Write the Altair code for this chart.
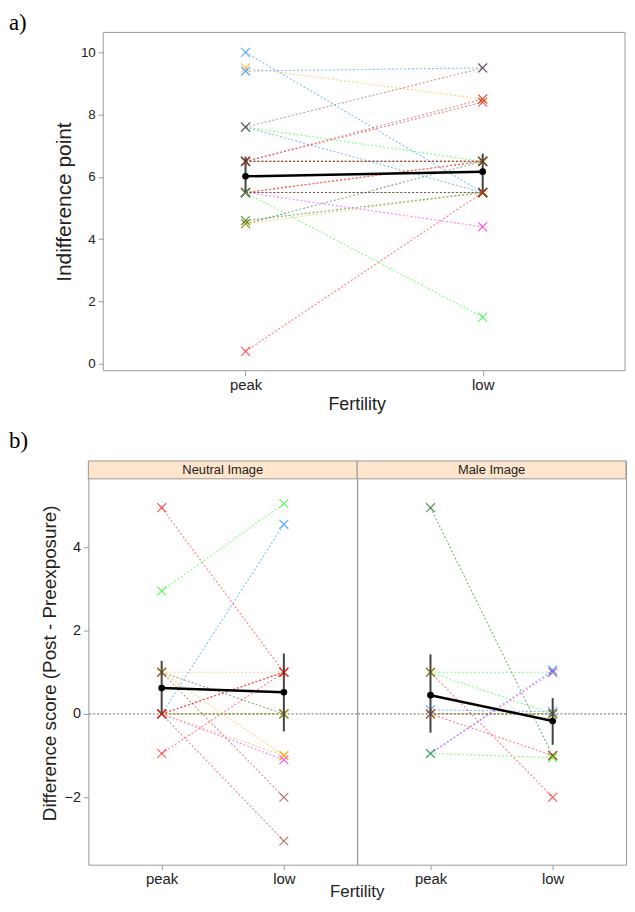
import altair as alt
import pandas as pd

BLUE = "#0080ff"; MAG = "#ff00ff"; DG = "#006400"; RED = "#ff0000"
ORA = "#ffa500"; GRN = "#00ff00"; BRN = "#a52a2a"

fert_labels = ["peak", "low"]

# ---- panel a: indifference points (peak -> low) per participant
a_peak = [10.0, 9.5, 9.4, 7.6, 7.6, 7.6, 6.5, 6.5, 6.5, 6.5, 6.5, 5.5, 5.5, 5.5,
          5.5, 5.5, 5.5, 5.5, 5.5, 5.5, 4.5, 4.5, 4.6, 0.4]
a_low = [5.5, 8.5, 9.5, 6.5, 5.5, 9.5, 8.5, 8.4, 6.5, 6.5, 6.5, 6.5, 6.5, 6.5,
         5.5, 5.5, 5.5, 5.5, 4.4, 1.5, 6.5, 5.5, 5.5, 5.5]
a_col = [BLUE, ORA, BLUE, GRN, BLUE, BRN, BRN, RED, RED, DG, BRN, MAG, RED, ORA,
         GRN, DG, BLUE, RED, MAG, GRN, DG, ORA, DG, RED]
a_mean = [6.02, 6.17]
a_lo = [5.5, 5.55]
a_hi = [6.65, 6.75]

# ---- panel b: difference scores, neutral image
n_peak = [4.95, 2.95, 0.0, -0.95, 1.0, 1.0, 1.0, 1.0, 0.0, 0.0, 0.0, 0.0, 0.0, 0.0, 0.0, 0.0]
n_low = [1.0, 5.05, 4.55, 1.0, 1.0, 0.0, -1.0, -2.0, 1.0, 1.0, 0.0, 0.0, -1.1, -3.05, -1.0, 1.0]
n_col = [RED, GRN, BLUE, RED, ORA, DG, ORA, BRN, MAG, ORA, DG, ORA, MAG, BRN, ORA, RED]
n_mean = [0.62, 0.52]
n_lo = [-0.02, -0.42]
n_hi = [1.27, 1.45]

# ---- panel b: difference scores, male image
m_peak = [4.95, 1.0, 1.0, 1.0, 0.1, 0.0, 0.0, -0.95, -0.95, -0.95, 0.0]
m_low = [-1.0, 1.0, 0.0, -2.0, 0.05, -1.0, 0.0, 1.05, 1.0, -1.05, 0.0]
m_col = [DG, GRN, GRN, RED, BLUE, RED, GRN, BLUE, MAG, GRN, RED]
m_mean = [0.45, -0.17]
m_lo = [-0.45, -0.74]
m_hi = [1.43, 0.38]

strip_names = ["Neutral Image", "Male Image"]

XPATH = "M-1,-1L1,1M-1,1L1,-1"
FONT = "Liberation Sans"
TXT = "#222222"
BOX = "#999999"


def long_df(peaks, lows, cols, prefix):
    rows = []
    for i, (p, l, c) in enumerate(zip(peaks, lows, cols)):
        rows.append(dict(subject=f"{prefix}{i}", fert=1, value=p, color=c))
        rows.append(dict(subject=f"{prefix}{i}", fert=2, value=l, color=c))
    return pd.DataFrame(rows)


def mean_df(mean, lo, hi):
    return pd.DataFrame(dict(fert=[1, 2], mean=mean, lo=lo, hi=hi))


def make_axes(yvals, ytitle, xtitle, ytitle_size, ytitle_pad, ylab_size, yoffset):
    xax = alt.Axis(values=[1, 2], labelExpr="datum.value == 1 ? 'peak' : 'low'",
                   title=xtitle, grid=False, domain=False, tickColor=BOX,
                   tickSize=5, labelFontSize=15, labelColor=TXT,
                   labelFont=FONT, titleFont=FONT, titleFontSize=18,
                   titleFontWeight="normal", titleColor=TXT, labelPadding=2,
                   titlePadding=3)
    if ytitle:
        yax = alt.Axis(values=yvals, title=ytitle, grid=False, domain=False,
                       tickColor=BOX, tickSize=5, labelFontSize=ylab_size,
                       labelColor=TXT, labelFont=FONT, titleFont=FONT,
                       titleFontSize=ytitle_size, titleFontWeight="normal",
                       titleColor=TXT, labelPadding=3, titlePadding=ytitle_pad,
                       offset=yoffset)
    else:
        yax = alt.Axis(values=yvals, title="", grid=False, domain=False,
                       ticks=False, labels=False)
    return xax, yax


def panel(subj, means, width, height, xdom, ydom, yvals, ytitle, xtitle,
          ytitle_size, ytitle_pad, ylab_size, yoffset, extras):
    xsc = alt.Scale(domain=xdom, nice=False, zero=False)
    ysc = alt.Scale(domain=ydom, nice=False, zero=False)
    xax, yax = make_axes(yvals, ytitle, xtitle, ytitle_size, ytitle_pad,
                         ylab_size, yoffset)
    X = alt.X("fert:Q", scale=xsc, axis=xax, title=xtitle)
    base = alt.Chart(subj)
    lines = base.mark_line(strokeDash=[2, 2], strokeWidth=1.1, opacity=0.5).encode(
        x=X,
        y=alt.Y("value:Q", scale=ysc, axis=yax, title=ytitle),
        detail="subject:N",
        color=alt.Color("color:N", scale=None),
    )
    pts = base.mark_point(shape=XPATH, filled=False, size=80, strokeWidth=1.2,
                          opacity=0.65).encode(
        x=X,
        y=alt.Y("value:Q", scale=ysc, axis=yax, title=ytitle),
        color=alt.Color("color:N", scale=None),
    )
    mb = alt.Chart(means)
    bars = mb.mark_rule(strokeWidth=2, color="#444444").encode(
        x=X,
        y=alt.Y("lo:Q", scale=ysc, axis=yax, title=ytitle),
        y2="hi:Q",
    )
    mline = mb.mark_line(strokeWidth=2.5, color="black").encode(
        x=X,
        y=alt.Y("mean:Q", scale=ysc, axis=yax, title=ytitle),
    )
    mpts = mb.mark_circle(size=45, color="black", opacity=1).encode(
        x=X,
        y=alt.Y("mean:Q", scale=ysc, axis=yax, title=ytitle),
    )
    layers = list(extras) + [lines, pts, bars, mline, mpts]
    return alt.layer(*layers).properties(width=width, height=height)


# ---------------- panel a (box starts A_OFF px right of the group origin)
A_OFF = 15
A_W, A_H = 541, 341
A_XDOM = [0.4 - A_OFF * 2.2 / 526, 2.6]
box_a = alt.Chart(pd.DataFrame({"t": ["a)"]})).mark_rect(
    fill="transparent", stroke=BOX, strokeWidth=1).encode(
    x=alt.value(A_OFF), x2=alt.value(A_W), y=alt.value(0), y2=alt.value(A_H))
chart_a = panel(long_df(a_peak, a_low, a_col, "a"), mean_df(a_mean, a_lo, a_hi),
                A_W, A_H, A_XDOM, [-0.22, 10.64], [0, 2, 4, 6, 8, 10],
                "Indifference point", "Fertility", 21, 6, 13.5, -A_OFF, [box_a])
label_a = alt.Chart(pd.DataFrame({"t": ["a)"]})).mark_text(
    font="Liberation Serif", fontSize=23, align="left", baseline="top",
    color="black").encode(x=alt.value(-80), y=alt.value(-20), text="t:N")
chart_a = alt.layer(label_a, chart_a).properties(
    view=alt.ViewBackground(stroke="transparent"))

# ---------------- panel b
B_W, B_H = 271, 407
B_YDOM = [-3.619, 6.071]
STRIP_H = 18
YT_B = "Difference score (Post - Preexposure)"


def strip_layers(name, ytitle, yvals):
    sdf = pd.DataFrame({"t": [name]})
    rect = alt.Chart(sdf).mark_rect(fill="#ffe5cc", stroke=BOX, strokeWidth=1).encode(
        x=alt.value(0), x2=alt.value(B_W), y=alt.value(0), y2=alt.value(STRIP_H))
    txt = alt.Chart(sdf).mark_text(font=FONT, fontSize=13, color=TXT,
                                   baseline="middle").encode(
        x=alt.value(B_W / 2), y=alt.value(STRIP_H / 2 + 0.5), text="t:N")
    _, yax = make_axes(yvals, ytitle, "", 19, 5, 14.5, 0)
    zero = alt.Chart(pd.DataFrame({"z": [0.0]})).mark_rule(
        strokeDash=[2, 2], color="#666666", strokeWidth=1).encode(
        y=alt.Y("z:Q", scale=alt.Scale(domain=B_YDOM, nice=False, zero=False),
                axis=yax, title=ytitle))
    return [rect, txt, zero]


chart_n = panel(long_df(n_peak, n_low, n_col, "n"), mean_df(n_mean, n_lo, n_hi),
                B_W, B_H, [0.4, 2.6], B_YDOM, [-2, 0, 2, 4], YT_B, "", 19, 5,
                14.5, 0, strip_layers(strip_names[0], YT_B, [-2, 0, 2, 4]))
extra_n = alt.Chart(pd.DataFrame({"t": ["b)"], "f": ["Fertility"]}))
lab_b = extra_n.mark_text(font="Liberation Serif", fontSize=23, align="left",
                          baseline="top", color="black").encode(
    x=alt.value(-80), y=alt.value(-31), text="t:N")
fert_b = extra_n.mark_text(font=FONT, fontSize=17, align="center",
                           baseline="middle", color=TXT).encode(
    x=alt.value(B_W), y=alt.value(B_H + 28), text="f:N")
chart_n = alt.layer(lab_b, fert_b, chart_n)

chart_m = panel(long_df(m_peak, m_low, m_col, "m"), mean_df(m_mean, m_lo, m_hi),
                B_W, B_H, [0.4, 2.6], B_YDOM, [-2, 0, 2, 4], "", "", 19, 5,
                14.5, 0, strip_layers(strip_names[1], "", [-2, 0, 2, 4]))

chart_b = alt.hconcat(chart_n, chart_m, spacing=0, bounds="flush")

chart = alt.vconcat(chart_a, chart_b, spacing=15).properties(
    padding=0).configure_view(stroke=BOX, strokeWidth=1)

chart.save("out.html", embed_options={"renderer": "svg", "actions": False})
